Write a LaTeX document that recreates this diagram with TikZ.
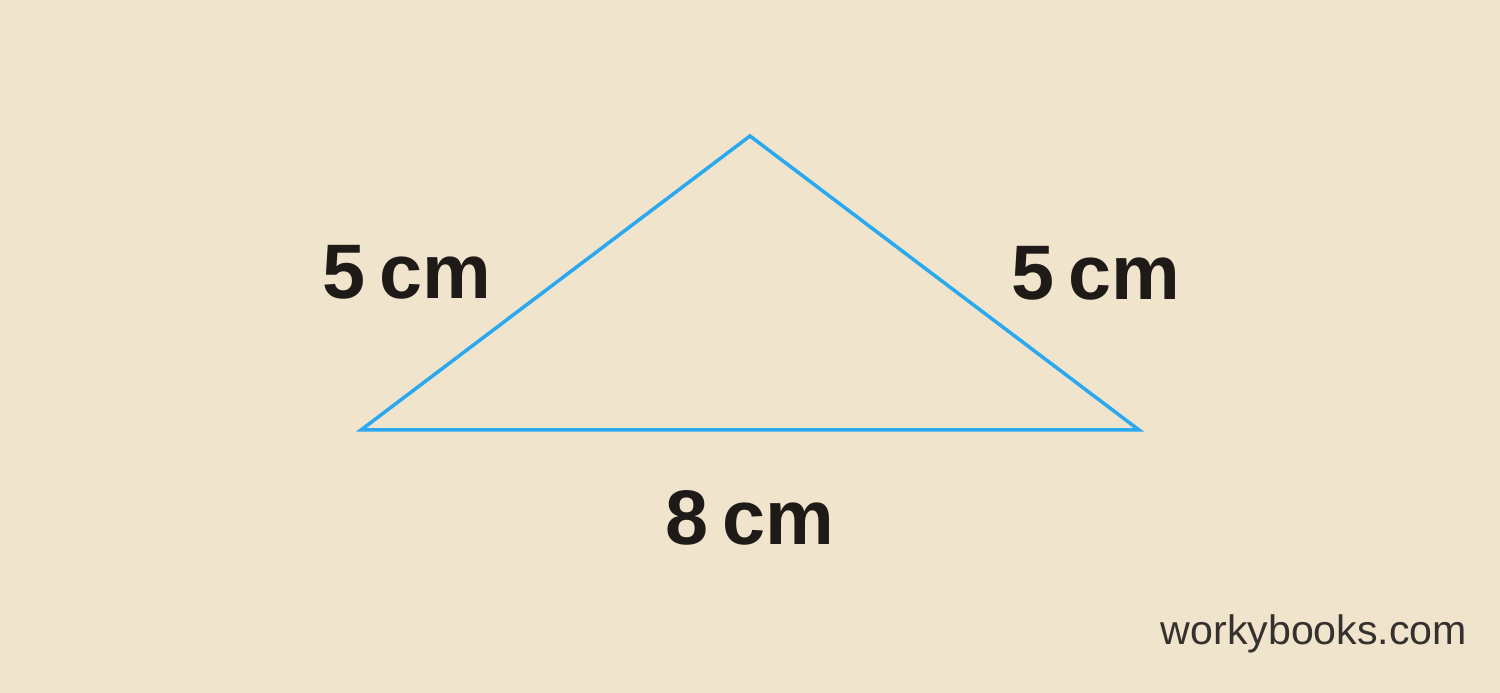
\documentclass[tikz,border=0pt]{standalone}
\usepackage{fontspec}
\setmainfont{Liberation Sans}
\definecolor{paper}{HTML}{F1E4CC}
\definecolor{side}{HTML}{2AA8F0}
\definecolor{ink}{HTML}{1E1A17}
\tikzset{
    sidelabel/.style={font=\fontsize{22}{22}\selectfont\bfseries,text=ink},
    mark label/.style={font=\fontsize{11.7}{11.7}\selectfont,text=ink!90}
}
\begin{document}
\begin{tikzpicture}
                \fill[paper] (0,0) rectangle (15,6.93);
                \useasboundingbox (0,0) rectangle (15,6.93);
                \coordinate (A) at (3.61,2.63);
                \coordinate (B) at (11.39,2.63);
                \coordinate (C) at (7.50,5.57);
                \draw[side,line width=1pt,line join=miter] (A) -- (B) -- (C) -- cycle;
                \node[sidelabel] (ac) at (4.07,4.21) {5\hspace{0.18em}cm};
                \node[sidelabel] (bc) at (10.96,4.20) {5\hspace{0.18em}cm};
                \node[sidelabel] (ab) at (7.50,1.75) {8\hspace{0.18em}cm};
                \node[mark label] (site) at (13.14,0.59) {workybooks.com};
            \end{tikzpicture}
\end{document}
